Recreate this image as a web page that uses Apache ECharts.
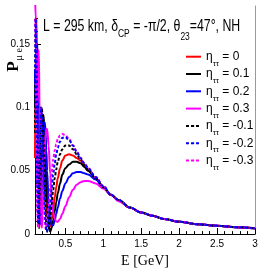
<!DOCTYPE html>
<html><head><meta charset="utf-8">
<script src="https://cdn.jsdelivr.net/npm/echarts@6/dist/echarts.min.js"></script>
<style>html,body{margin:0;padding:0;background:#fff}#c{width:266px;height:273px}</style>
</head><body><div id="c"></div>
<script>
// Energy grid (GeV)
const E = [0.10,0.11,0.12,0.13,0.14,0.15,0.16,0.17,0.18,0.19,0.20,0.21,0.22,0.23,0.24,0.25,0.26,
  0.28,0.30,0.32,0.34,0.36,0.38,0.40,
  0.43,0.46,0.50,0.55,0.60,0.65,0.70,0.75,0.80,
  0.90,1.00,1.10,1.20,1.35,1.50,1.65,1.80,2.00,2.25,2.50,2.75,3.00];
// P(mu->e) for each eta_tautau
const P_0 = [0.06,0.15,0.17,0.12,0.05,0.01,0.005,0.03,0.065,0.085,0.092,0.088,0.075,0.058,0.04,0.025,0.014,
  0.005,0.006,0.012,0.02,0.029,0.037,0.044,
  0.052,0.058,0.062,0.063,0.062,0.060,0.058,0.054,0.050,
  0.044,0.037,0.031,0.027,0.021,0.017,0.0145,0.012,0.0097,0.0078,0.0065,0.0055,0.0046];
const P_p01 = [0.10,0.12,0.15,0.14,0.09,0.04,0.01,0.008,0.035,0.07,0.09,0.094,0.088,0.073,0.055,0.038,0.024,
  0.006,0.002,0.005,0.011,0.018,0.025,0.032,
  0.040,0.047,0.052,0.055,0.057,0.057,0.056,0.053,0.050,
  0.044,0.037,0.031,0.027,0.021,0.017,0.0145,0.012,0.0097,0.0078,0.0065,0.0055,0.0046];
const P_p02 = [0.13,0.09,0.12,0.15,0.13,0.08,0.035,0.01,0.008,0.03,0.06,0.08,0.088,0.088,0.08,0.066,0.05,
  0.024,0.011,0.007,0.007,0.011,0.016,0.021,
  0.028,0.034,0.040,0.045,0.048,0.049,0.049,0.048,0.047,
  0.043,0.037,0.031,0.027,0.021,0.017,0.0145,0.012,0.0097,0.0078,0.0065,0.0055,0.0046];
const P_p03 = [0.19,0.17,0.10,0.10,0.14,0.145,0.10,0.05,0.015,0.005,0.015,0.035,0.055,0.07,0.079,0.083,0.083,
  0.07,0.047,0.028,0.017,0.012,0.010,0.0097,
  0.012,0.016,0.022,0.029,0.035,0.039,0.041,0.042,0.042,
  0.040,0.036,0.031,0.026,0.021,0.017,0.0145,0.012,0.0097,0.0078,0.0065,0.0055,0.0046];
const P_m01 = [0.08,0.16,0.13,0.07,0.02,0.005,0.03,0.07,0.095,0.10,0.092,0.075,0.055,0.035,0.018,0.007,0.002,
  0.004,0.013,0.024,0.035,0.044,0.051,0.057,
  0.063,0.067,0.070,0.070,0.067,0.063,0.059,0.055,0.051,
  0.044,0.037,0.031,0.027,0.021,0.017,0.0145,0.012,0.0097,0.0078,0.0065,0.0055,0.0046];
const P_m02 = [0.12,0.17,0.10,0.04,0.008,0.01,0.05,0.085,0.10,0.096,0.08,0.06,0.038,0.02,0.008,0.002,0.002,
  0.01,0.022,0.035,0.047,0.056,0.063,0.068,
  0.073,0.076,0.0765,0.074,0.070,0.065,0.060,0.056,0.052,
  0.045,0.038,0.031,0.027,0.021,0.017,0.0145,0.012,0.0097,0.0078,0.0065,0.0055,0.0046];
const P_m03 = [0.17,0.15,0.07,0.015,0.005,0.03,0.075,0.10,0.10,0.085,0.065,0.042,0.022,0.009,0.004,0.005,0.01,
  0.022,0.036,0.049,0.059,0.066,0.071,0.075,
  0.078,0.079,0.078,0.075,0.070,0.065,0.060,0.056,0.052,
  0.045,0.038,0.031,0.027,0.021,0.017,0.0145,0.012,0.0097,0.0078,0.0065,0.0055,0.0046];

const LEGEND_NAMES = ['0','0.1','0.2','0.3','-0.1','-0.2','-0.3'];
const X_MAJOR = [0.5,1,1.5,2,2.5,3];
const X_MINOR = [0.2,0.3,0.4,0.6,0.7,0.8,0.9,1.1,1.2,1.3,1.4,1.6,1.7,1.8,1.9,2.1,2.2,2.3,2.4,2.6,2.7,2.8,2.9];
const Y_MAJOR = [0,0.05,0.1,0.15];
const Y_MINOR = [0.01,0.02,0.03,0.04,0.06,0.07,0.08,0.09,0.11,0.12,0.13,0.14,0.16,0.17];

const SANS = "'Liberation Sans',Arial,sans-serif";
const SERIF = "'Liberation Serif','Times New Roman',serif";

function mk(name, vals, color, dashed, z){
  return {name, type:'line', data:E.map((e,i)=>[e, vals[i]]), showSymbol:false, symbol:'none',
    smooth:0.35, smoothMonotone:'x', clip:true, z,
    lineStyle:{color, width:2, type: dashed ? [3,2] : 'solid'}, itemStyle:{color}};
}

const chart = echarts.init(document.getElementById('c'), null, {renderer:'canvas'});
chart.setOption({
  animation:false,
  backgroundColor:'#fff',
  grid:{left:35, right:11, top:6, bottom:30.5},
  xAxis:[
    {type:'value', min:0.1, max:3, position:'bottom',
     axisLine:{onZero:false, lineStyle:{color:'#000', width:1}},
     axisTick:{inside:true, length:6, customValues:X_MAJOR, lineStyle:{color:'#000'}},
     axisLabel:{customValues:X_MAJOR, margin:5, fontSize:10, color:'#000', fontFamily:SANS},
     splitLine:{show:false},
     name:'E [GeV]', nameLocation:'middle', nameGap:16,
     nameTextStyle:{fontFamily:SERIF, fontSize:14, color:'#000'}},
    {type:'value', min:0.1, max:3, position:'bottom',
     axisLine:{show:false, onZero:false},
     axisTick:{inside:true, length:3, customValues:X_MINOR, lineStyle:{color:'#000'}},
     axisLabel:{show:false}, splitLine:{show:false}}
  ],
  yAxis:[
    {type:'value', min:0, max:0.18, position:'left',
     axisLine:{show:true, onZero:false, lineStyle:{color:'#000', width:1}},
     axisTick:{show:true, inside:true, length:6, customValues:Y_MAJOR, lineStyle:{color:'#000'}},
     axisLabel:{customValues:Y_MAJOR, margin:5, fontSize:10, color:'#000', fontFamily:SANS},
     splitLine:{show:false}},
    {type:'value', min:0, max:0.18, position:'left',
     axisLine:{show:false, onZero:false},
     axisTick:{show:true, inside:true, length:3, customValues:Y_MINOR, lineStyle:{color:'#000'}},
     axisLabel:{show:false}, splitLine:{show:false}},
    {type:'value', min:0, max:0.18, position:'right',
     axisLine:{show:true, onZero:false, lineStyle:{color:'#9a9a9a', width:1}},
     axisTick:{show:false}, axisLabel:{show:false}, splitLine:{show:false}}
  ],
  legend:{
    orient:'vertical', left:180, top:45.7, itemWidth:15, itemHeight:2, itemGap:0.3,
    data:LEGEND_NAMES, selectedMode:false,
    formatter: n => '{a|η}{b|ττ}{a| = ' + n + '}',
    textStyle:{rich:{
      a:{fontSize:12, lineHeight:22, color:'#000', fontFamily:SANS},
      b:{fontSize:8, verticalAlign:'bottom', color:'#000', fontFamily:SANS}
    }}
  },
  graphic:[
    {type:'text', x:43, y:19, scaleX:0.77, z:100,
     style:{text:'{t|L = 295 km, δ}{s|CP}{t| = -π/2, θ}{u|23}{t|=47°, NH}',
       verticalAlign:'top', align:'left',
       rich:{
         t:{fontSize:16, verticalAlign:'top', color:'#000', fontFamily:SANS},
         s:{fontSize:11, verticalAlign:'top', padding:[9,0,0,0], color:'#000', fontFamily:SANS},
         u:{fontSize:11, verticalAlign:'top', padding:[12,0,0,0], color:'#000', fontFamily:SANS}
       }}},
    {type:'text', x:15, y:60, rotation:Math.PI/2, z:100,
     style:{text:'{p|P}{s|μ e}', align:'center', verticalAlign:'middle',
       rich:{
         p:{fontSize:17, fontWeight:'bold', verticalAlign:'top', color:'#000', fontFamily:SERIF},
         s:{fontSize:10, verticalAlign:'top', padding:[9,0,0,1], color:'#000', fontFamily:SERIF}
       }}}
  ],
  series:[
    mk('0', P_0, '#ff0000', false, 2),
    mk('0.1', P_p01, '#000000', false, 2),
    mk('0.2', P_p02, '#0000ff', false, 2),
    mk('0.3', P_p03, '#ff00ff', false, 2),
    mk('-0.1', P_m01, '#000000', true, 3),
    mk('-0.3', P_m03, '#ff00ff', true, 3),
    mk('-0.2', P_m02, '#0000ff', true, 4)
  ]
});
</script></body></html>
